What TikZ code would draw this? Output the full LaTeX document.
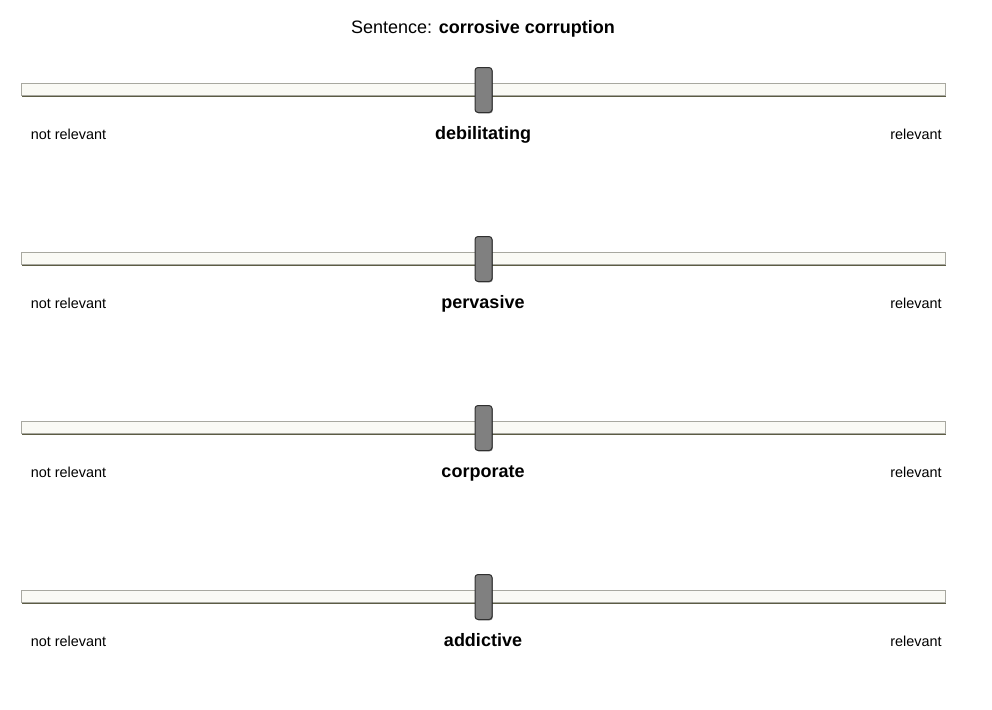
\documentclass[tikz,border=0pt]{standalone}
\usepackage{fontspec}
\setmainfont{Liberation Sans}
\usetikzlibrary{shadows}
\definecolor{trackfill}{HTML}{FAFAF5}
\definecolor{trackline}{HTML}{A8A8A0}
\definecolor{trackshade}{HTML}{4A4A30}
\definecolor{thumbfill}{HTML}{808080}
\definecolor{thumbline}{HTML}{303030}
\tikzset{
    track/.style={draw=trackline, fill=trackfill, line width=1pt, minimum width=924pt, minimum height=12pt, inner sep=0pt,
        drop shadow={shadow xshift=1pt, shadow yshift=-1.2pt, fill=trackshade, opacity=0.9}},
    thumb/.style={draw=thumbline, fill=thumbfill, line width=1pt, rounded corners=3pt, minimum width=17pt, minimum height=45pt, inner sep=0pt,
        drop shadow={shadow xshift=0.8pt, shadow yshift=-0.8pt, fill=black, opacity=0.5}},
    endlabel/.style={font=\fontsize{14.4}{16}\selectfont, inner sep=0pt, anchor=base},
    word/.style={font=\fontsize{18}{20}\selectfont\bfseries, inner sep=0pt, anchor=base}
}
\begin{document}
\begin{tikzpicture}[x=1pt, y=-1pt]
    \useasboundingbox (0,0) rectangle (992,709);

    \node[inner sep=0pt, anchor=base, font=\fontsize{18}{20}\selectfont] (title) at (483,34) {Sentence: \textbf{corrosive corruption}};

    \node[track] (track1) at (483,89.5) {};
    \node[thumb] (thumb1) at (483.5,90) {};
    \node[endlabel] (low1) at (68.5,139.5) {not relevant};
    \node[word] (word1) at (483,139) {debilitating};
    \node[endlabel] (high1) at (916,139.5) {relevant};

    \node[track] (track2) at (483,258.5) {};
    \node[thumb] (thumb2) at (483.5,259) {};
    \node[endlabel] (low2) at (68.5,308.5) {not relevant};
    \node[word] (word2) at (483,308) {pervasive};
    \node[endlabel] (high2) at (916,308.5) {relevant};

    \node[track] (track3) at (483,427.5) {};
    \node[thumb] (thumb3) at (483.5,428) {};
    \node[endlabel] (low3) at (68.5,477.5) {not relevant};
    \node[word] (word3) at (483,477) {corporate};
    \node[endlabel] (high3) at (916,477.5) {relevant};

    \node[track] (track4) at (483,596.5) {};
    \node[thumb] (thumb4) at (483.5,597) {};
    \node[endlabel] (low4) at (68.5,646.5) {not relevant};
    \node[word] (word4) at (483,646) {addictive};
    \node[endlabel] (high4) at (916,646.5) {relevant};
\end{tikzpicture}
\end{document}
